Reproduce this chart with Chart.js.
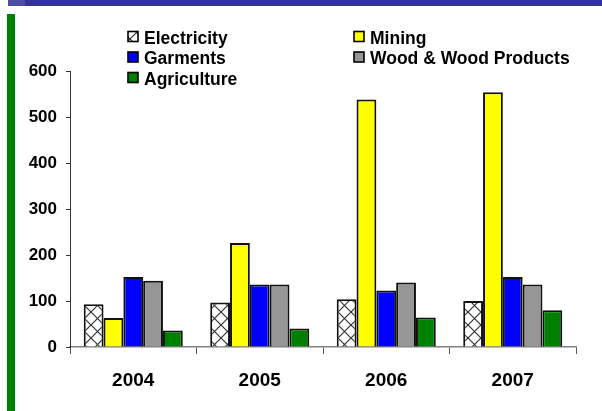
<!DOCTYPE html>
<html>
<head>
<meta charset="utf-8">
<script src="https://cdn.jsdelivr.net/npm/chart.js@4.4.1/dist/chart.umd.min.js"></script>
<style>
    body { margin: 0; background: #fff; }
    .wrap { position: relative; width: 602px; height: 411px; overflow: hidden; }
    .topband { position: absolute; left: 8px; top: 0; width: 594px; height: 6px; background: #333399; }
    .topband-tab { position: absolute; left: 8px; top: 0; width: 17px; height: 6px; background: #4d4da6; }
    .sidebar { position: absolute; left: 7px; top: 14px; width: 8px; height: 397px; background: #008000; }
    canvas { position: absolute; left: 0; top: 0; }
</style>
</head>
<body>
<div class="wrap">
    <div class="topband"></div>
    <div class="topband-tab"></div>
    <div class="sidebar"></div>
    <canvas id="myChart" width="602" height="411"></canvas>
</div>
<script>
const years = ['2004', '2005', '2006', '2007'];
const electricity = [93, 97, 104, 100];
const mining = [63, 226, 538, 554];
const garments = [152, 136, 123, 152];
const wood = [144, 136, 140, 136];
const agriculture = [36, 40, 64, 80];
const yTicks = [0, 100, 200, 300, 400, 500, 600];

// cross-hatch fill for the electricity bars
function hatch(){
    const size = 13;
    const c = document.createElement('canvas');
    c.width = size;
    c.height = size;
    const g = c.getContext('2d');
    g.fillStyle = '#fff';
    g.fillRect(0, 0, size, size);
    g.strokeStyle = '#333';
    g.lineWidth = 1.2;
    g.beginPath();
    g.moveTo(0, 0); g.lineTo(size, size);
    g.moveTo(size, 0); g.lineTo(0, size);
    g.stroke();
    return g.createPattern(c, 'repeat');
}
const hatchFill = hatch();

// two-column legend drawn above the plot
const legendGrid = {
    id: 'legendGrid',
    afterDraw(chart){
        const ctx = chart.ctx;
        const cols = [128, 354];
        const rows = [43.5, 64, 84.5];
        ctx.save();
        ctx.font = 'bold 17.5px "Liberation Sans", Arial, sans-serif';
        ctx.textBaseline = 'alphabetic';
        chart.data.datasets.forEach((ds, i) => {
            const x = cols[i % 2];
            const y = rows[Math.floor(i / 2)];
            ctx.fillStyle = ds.backgroundColor;
            ctx.fillRect(x, y - 12, 10, 10);
            ctx.strokeStyle = '#000';
            ctx.lineWidth = 1.6;
            ctx.strokeRect(x, y - 12, 10, 10);
            ctx.fillStyle = '#000';
            ctx.fillText(ds.label, x + 16, y);
        });
        ctx.restore();
    }
};

const barChart = document.querySelector('#myChart');

new Chart(barChart, {
    type: 'bar',
    data: {
        labels: years,
        datasets: [
            { label: 'Electricity', data: electricity, backgroundColor: hatchFill },
            { label: 'Mining', data: mining, backgroundColor: '#ffff00' },
            { label: 'Garments', data: garments, backgroundColor: '#0000ff' },
            { label: 'Wood & Wood Products', data: wood, backgroundColor: '#969696' },
            { label: 'Agriculture', data: agriculture, backgroundColor: '#008000' },
        ]
    },
    options: {
        responsive: false,
        animation: false,
        layout: { padding: { left: 0, top: 71, right: 26, bottom: 0 } },
        datasets: {
            bar: {
                borderColor: '#111',
                borderWidth: 2,
                barPercentage: 1,
                categoryPercentage: 0.783,
            }
        },
        plugins: {
            legend: { display: false },
            tooltip: { enabled: false },
        },
        scales: {
            x: {
                grid: {
                    offset: true,
                    drawOnChartArea: false,
                    tickLength: 7,
                    color: '#555',
                },
                border: { color: '#808080', width: 1.5 },
                ticks: {
                    color: '#000',
                    padding: 15,
                    font: { family: '"Liberation Sans", Arial, sans-serif', size: 19, weight: 'bold' },
                },
                afterFit(scale){ scale.height = 64; },
            },
            y: {
                min: 0,
                max: 600,
                afterBuildTicks(scale){ scale.ticks = yTicks.map(v => ({ value: v })); },
                grid: {
                    drawOnChartArea: false,
                    tickLength: 4,
                    color: '#333',
                },
                border: { color: '#333', width: 1 },
                ticks: {
                    color: '#000',
                    padding: 9,
                    font: { family: '"Liberation Sans", Arial, sans-serif', size: 17, weight: 'bold' },
                },
                afterFit(scale){ scale.width = 70; },
            },
        },
    },
    plugins: [legendGrid],
});
</script>
</body>
</html>
